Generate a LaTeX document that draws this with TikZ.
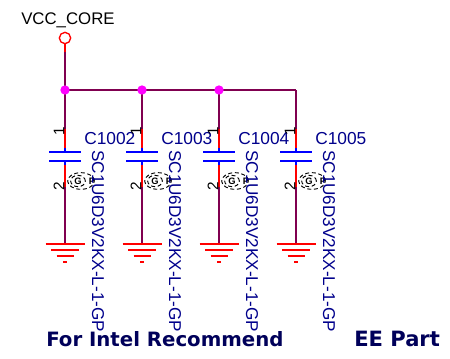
\documentclass[tikz,border=0pt]{standalone}
\usepackage{fontspec}
\setmainfont{Liberation Sans}
\newfontfamily\titlefont{DejaVu Sans}
\usetikzlibrary{shapes.geometric}
\definecolor{wirec}{RGB}{128,0,80}
\definecolor{navy}{RGB}{0,0,140}
\definecolor{titlec}{RGB}{0,0,90}
\definecolor{dotc}{RGB}{255,0,255}
\definecolor{redc}{RGB}{255,0,0}
\definecolor{bluec}{RGB}{0,0,255}
\tikzset{
  x=0.75pt,y=-0.75pt,
  wire/.style={draw=wirec,line width=1pt},
  pin/.style={draw=redc,line width=1pt},
  plate/.style={draw=bluec,line width=1.5pt},
  gnd/.style={draw=redc,line width=1pt},
  dot/.style={circle,fill=dotc,inner sep=0pt,minimum size=7pt},
  reflabel/.style={text=navy,font=\fontsize{13}{14}\selectfont,inner sep=0pt,anchor=west},
  partlabel/.style={text=navy,font=\fontsize{12.85}{14}\selectfont,inner sep=0pt,anchor=west,rotate=-90},
  pinnum/.style={text=black,font=\fontsize{11.5}{12}\selectfont,inner sep=0pt,rotate=90},
  title/.style={text=titlec,font=\titlefont\bfseries\fontsize{14.8}{16}\selectfont,inner sep=0pt,anchor=west},
  gptext/.style={text=black,font=\bfseries\fontsize{7}{7}\selectfont,inner sep=0pt},
  gpring/.style={draw=black,densely dashed,line width=0.7pt,ellipse,inner sep=0pt}
}
\newcommand{\capunit}[3]{%
  \coordinate (top#2) at (#1,129);
  \coordinate (pa#2) at (#1,148);
  \coordinate (pb#2) at (#1,152);
  \coordinate (pc#2) at (#1,161);
  \coordinate (pd#2) at (#1,165);
  \coordinate (pe#2) at (#1,187);
  \coordinate (gn#2) at (#1,244);
  \coordinate (bus#2) at (#1,90);
  \draw[wire] (bus#2) -- (top#2);
  \draw[pin] (top#2) -- (pa#2);
  \draw[plate] (pa#2) -- (pb#2);
  \draw[plate] (pc#2) -- (pd#2);
  \draw[plate] (#1-16,152) -- (#1+16,152);
  \draw[plate] (#1-16,161) -- (#1+16,161);
  \draw[pin] (pd#2) -- (pe#2);
  \draw[wire] (pe#2) -- (gn#2);
  \draw[gnd] (#1-19.5,244) -- (#1+19.5,244);
  \draw[gnd] (#1-14,250) -- (#1+14,250);
  \draw[gnd] (#1-8.5,256) -- (#1+8.5,256);
  \draw[gnd] (#1-2,262) -- (#1+2,262);
  \node[pinnum] (one#2) at (#1-6,131) {1};
  \node[pinnum] (two#2) at (#1-6,186) {2};
  \node[gpring,minimum width=20pt,minimum height=12.5pt] (ring#2) at (#1+16,181) {};
  \node[gpring,minimum width=11pt,minimum height=8.5pt] (ringb#2) at (#1+13,181) {};
  \node[gptext] (g#2) at (#1+13,181) {G};
  \node[gptext] (p#2) at (#1+27,181) {P};
  \node[reflabel] (ref#2) at (#1+19,139) {C#3};
  \node[partlabel] (part#2) at (#1+33,150) {SC1U6D3V2KX-L-1-GP};
}
\begin{document}
\begin{tikzpicture}
\useasboundingbox (0,0) rectangle (450,358);
\fill[white] (0,0) rectangle (450,358);
\node[text=black,font=\fontsize{12.6}{13}\selectfont,inner sep=0pt,anchor=west] (vcc) at (21,20) {VCC\_CORE};
\node[circle,draw=redc,line width=1pt,fill=white,inner sep=0pt,minimum size=8.5pt] (port) at (65,38) {};
\coordinate (ja) at (65,90);
\coordinate (jb) at (142,90);
\coordinate (jc) at (219,90);
\coordinate (corner) at (296,90);
\coordinate (pe) at (65,52);
\draw[pin] (port.south) -- (pe);
\draw[wire] (pe) -- (ja);
\draw[wire] (ja) -- (jb) -- (jc) -- (corner);
\capunit{65}{a}{1002}
\capunit{142}{b}{1003}
\capunit{219}{c}{1004}
\capunit{296}{d}{1005}
\node[dot] (da) at (ja) {};
\node[dot] (db) at (jb) {};
\node[dot] (dc) at (jc) {};
\node[title] (t1) at (46,339) {For Intel Recommend};
\node[title,font=\titlefont\bfseries\fontsize{15.8}{16}\selectfont] (t2) at (354,339) {EE Part};
\end{tikzpicture}
\end{document}
